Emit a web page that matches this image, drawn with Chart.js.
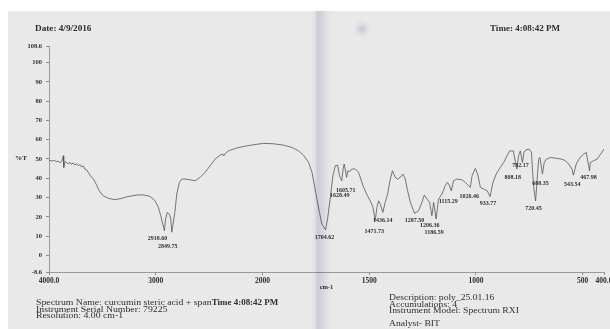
<!DOCTYPE html>
<html>
<head>
<meta charset="utf-8">
<script src="https://cdn.jsdelivr.net/npm/chart.js@4.4.1/dist/chart.umd.min.js"></script>
<style>
  html, body { margin: 0; padding: 0; background: #fff; }
  #wrap { width: 610px; height: 329px; }
</style>
</head>
<body>
<div id="wrap"><canvas id="irChart" width="610" height="329"></canvas></div>
<script>
// wavenumber (cm-1) and %T
const wavenumbers = [
  4000, 3975, 3950, 3928, 3910, 3897, 3880, 3866, 3862, 3850, 3834, 3820, 3803, 3790, 3772, 3760,
  3740, 3725, 3709, 3695, 3678, 3665, 3647, 3630, 3616, 3600, 3585, 3570, 3553, 3540, 3522, 3491,
  3444, 3381, 3318, 3271, 3178, 3116, 3053, 3006, 2975, 2953, 2918.60, 2908, 2891, 2872, 2859,
  2849.75, 2821, 2803, 2778, 2756, 2725, 2678, 2631, 2584, 2537, 2490, 2444, 2397, 2372, 2362,
  2350, 2319, 2256, 2178, 2084, 1995, 1948, 1902, 1862, 1831, 1808, 1784, 1768, 1756, 1745, 1733,
  1722, 1704.62, 1695, 1683, 1670, 1659, 1648, 1639, 1628.49, 1622, 1617, 1605.71, 1600, 1592,
  1581, 1565, 1550, 1539, 1529, 1519, 1508, 1495, 1482, 1471.73, 1464, 1456, 1448, 1436.14, 1425,
  1414, 1401, 1391, 1378, 1367, 1354, 1342, 1331, 1320, 1307, 1295, 1287.50, 1269, 1253, 1242,
  1229, 1217, 1206.36, 1198, 1186.59, 1175, 1159, 1144, 1133, 1125, 1115.29, 1105, 1089, 1065,
  1050, 1026.46, 1018, 1003, 992, 979, 963, 947, 933.77, 920, 905, 886, 870, 854, 842, 825,
  808.18, 800, 792, 782.17, 775, 765, 750, 740, 730, 720.45, 713, 706, 700, 688.35, 680, 670,
  651, 620, 597, 581, 566, 550, 543.54, 530, 512, 496, 483, 467.98, 464, 449, 433, 416, 400
];
const transmittance = [
  49.4, 49.0, 49.2, 48.6, 48.9, 48.0, 48.8, 51.7, 45.6, 48.7, 48.2, 47.4, 48.3, 47.2, 48.0, 46.9,
  47.6, 46.5, 47.2, 45.9, 46.4, 44.8, 44.3, 42.9, 41.6, 40.4, 39.8, 38.1, 36.4, 34.6, 32.9, 30.9,
  29.6, 28.9, 29.6, 30.4, 31.3, 31.4, 30.6, 28.3, 24.9, 20.6, 12.8, 18.9, 22.3, 21.4, 18.9,
  12.0, 22.3, 31.8, 37.9, 39.6, 39.6, 39.2, 38.7, 40.5, 43.1, 46.5, 49.9, 52.0, 52.6, 51.6,
  52.8, 54.2, 55.5, 56.5, 57.4, 58.1, 57.9, 57.2, 56.0, 54.2, 52.0, 48.2, 43.1, 36.1, 29.2, 22.3,
  16.3, 13.3, 18.9, 29.2, 41.3, 46.5, 46.8, 41.3, 38.7, 44.8, 47.4, 40.5, 43.9, 43.4,
  44.8, 44.8, 43.1, 39.6, 36.1, 33.5, 30.9, 28.3, 24.9, 18.0, 24.9, 28.3, 26.6, 22.3, 27.5,
  31.8, 39.6, 43.9, 40.5, 39.6, 40.5, 42.2, 39.6, 33.5, 27.5, 24.0, 21.8, 23.2, 27.5, 31.3,
  29.2, 27.5, 20.6, 27.5, 18.9, 29.2, 31.8, 36.1, 37.9, 36.5, 33.5, 38.7, 39.6, 39.2,
  37.9, 35.3, 41.3, 45.1, 42.2, 35.3, 34.4, 33.5, 30.5, 37.9, 42.2, 45.6, 48.2, 51.7, 54.2, 54.2,
  44.8, 51.7, 54.2, 48.2, 53.4, 54.8, 55.1, 53.4, 36.1, 28.3, 39.6, 49.9, 50.8, 42.2, 48.2, 49.9,
  50.8, 50.3, 49.9, 49.1, 47.4, 44.8, 41.6, 47.4, 50.8, 52.5, 53.4, 43.9, 48.2, 49.1, 49.9, 52.5, 55.1
];

// picked peaks (printed under each minimum)
const peakList = [2918.60, 2849.75, 1704.62, 1628.49, 1605.71, 1471.73, 1436.14, 1287.50, 1206.36,
  1186.59, 1115.29, 1026.46, 933.77, 808.18, 782.17, 720.45, 688.35, 543.54, 467.98];
// where each peak label sits relative to its minimum, px
const peakLabelShift = [[-7, 8], [-4, 14], [-1, 8], [-2, 15], [-1, 13], [-1, 11], [0, 8], [0, 7], [-2, 10],
  [-2, 13], [-3, 11], [-1, 9], [-2, 7], [-4, 8], [-2, 3], [-2, 8], [-2, 9], [-1, 9], [-1, 7]];

const xTicks = [4000, 3000, 2000, 1500, 1000, 500, 400];
const xTickText = ['4000.0', '3000', '2000', '1500', '1000', '500', '400.0'];
const yTicks = [108.6, 100, 90, 80, 70, 60, 50, 40, 30, 20, 10, 0, -8.6];
const yTickText = ['108.6', '100', '90', '80', '70', '60', '50', '40', '30', '20', '10', '0', '-8.6'];

const headerLeft = 'Date: 4/9/2016';
const headerRight = 'Time: 4:08:42 PM';
const infoLeft = ['Spectrum Name: curcumin steric acid + span', 'Instrument Serial Number: 79225', 'Resolution: 4.00 cm-1'];
const infoTime = 'Time 4:08:42 PM';
const infoRight = ['Description: poly_25.01.16', 'Accumulations: 4', 'Instrument Model: Spectrum RXI', '', 'Analyst- BIT'];

// the printer compresses 4000-2000 to half the density of 2000-400
const SPLIT = 2000 / 5200;
class WavenumberScale extends Chart.LinearScale {
  getPixelForValue(value) {
    const f = value >= 2000
      ? (4000 - value) / 2000 * SPLIT
      : SPLIT + (2000 - value) / 1600 * (1 - SPLIT);
    return this.left + f * this.width;
  }
  getValueForPixel(pixel) {
    const f = (pixel - this.left) / this.width;
    return f <= SPLIT ? 4000 - f / SPLIT * 2000 : 2000 - (f - SPLIT) / (1 - SPLIT) * 1600;
  }
}
WavenumberScale.id = 'wavenumber';
WavenumberScale.defaults = Chart.LinearScale.defaults;
Chart.register(WavenumberScale);

const INK = '#2e2e2e';
const SERIF = '"Liberation Serif", "DejaVu Serif", serif';

// text printed slightly wide, like the plotter output
function stretchText(ctx, text, x, y, font, sx) {
  ctx.save();
  ctx.font = font;
  ctx.translate(x, y);
  ctx.scale(sx, 1);
  ctx.fillText(text, 0, 0);
  const w = ctx.measureText(text).width * sx;
  ctx.restore();
  return w;
}

const paperPlugin = {
  id: 'paper',
  beforeDraw(chart) {
    const ctx = chart.ctx;
    ctx.save();
    ctx.fillStyle = '#ffffff';
    ctx.fillRect(0, 0, chart.width, chart.height);
    ctx.fillStyle = '#e9e9e9';
    ctx.fillRect(8, 11, chart.width - 8, chart.height - 11);
    ctx.restore();
  },
  afterDatasetsDraw(chart) {
    const ctx = chart.ctx;
    const xs = chart.scales.x, ys = chart.scales.y;
    ctx.save();
    ctx.fillStyle = INK;
    ctx.font = 'bold 6px ' + SERIF;
    ctx.textAlign = 'center';
    ctx.textBaseline = 'middle';
    peakList.forEach((wn, i) => {
      const k = wavenumbers.indexOf(wn);
      const px = xs.getPixelForValue(wn);
      const py = ys.getPixelForValue(transmittance[k]);
      const [dx, dy] = peakLabelShift[i];
      ctx.fillText(wn.toFixed(2), px + dx, py + dy);
    });
    ctx.restore();
  },
  afterDraw(chart) {
    const ctx = chart.ctx;
    ctx.save();
    ctx.fillStyle = INK;
    ctx.textBaseline = 'middle';
    ctx.textAlign = 'left';
    stretchText(ctx, headerLeft, 35, 29, 'bold 8px ' + SERIF, 1.15);
    stretchText(ctx, headerRight, 490, 29, 'bold 8px ' + SERIF, 1.13);
    stretchText(ctx, '%T', 15, 158, 'bold 6.5px ' + SERIF, 1.1);

    let nameEnd = 36;
    infoLeft.forEach((t, i) => {
      const w = stretchText(ctx, t, 36, 303 + i * 6.5, '8px ' + SERIF, 1.22);
      if (i === 0) nameEnd = 36 + w;
    });
    stretchText(ctx, infoTime, nameEnd, 303, 'bold 8px ' + SERIF, 1.12);
    infoRight.forEach((t, i) => stretchText(ctx, t, 389, 298 + i * 6.6, '8px ' + SERIF, 1.2));

    // crease running down the sheet
    ctx.globalCompositeOperation = 'multiply';
    const g = ctx.createLinearGradient(311, 0, 333, 0);
    g.addColorStop(0, 'rgba(255,255,255,0)');
    g.addColorStop(0.3, 'rgba(185,182,212,0.45)');
    g.addColorStop(0.6, 'rgba(205,203,225,0.35)');
    g.addColorStop(1, 'rgba(255,255,255,0)');
    ctx.fillStyle = g;
    ctx.fillRect(311, 11, 22, chart.height - 11);
    const b = ctx.createRadialGradient(362, 29, 1, 362, 29, 11);
    b.addColorStop(0, 'rgba(175,172,205,0.45)');
    b.addColorStop(1, 'rgba(255,255,255,0)');
    ctx.fillStyle = b;
    ctx.fillRect(350, 16, 24, 26);
    ctx.restore();
  }
};

new Chart(document.getElementById('irChart'), {
  type: 'line',
  data: {
    datasets: [{
      data: wavenumbers.map((wn, i) => ({ x: wn, y: transmittance[i] })),
      borderColor: '#555555',
      borderWidth: 0.8,
      pointRadius: 0,
      tension: 0,
      fill: false
    }]
  },
  options: {
    responsive: false,
    animation: false,
    devicePixelRatio: 1,
    layout: { padding: { top: 46, right: 6, left: 0, bottom: 0 } },
    plugins: { legend: { display: false }, tooltip: { enabled: false } },
    scales: {
      x: {
        type: 'wavenumber',
        position: 'bottom',
        min: 400,
        max: 4000,
        afterBuildTicks: s => { s.ticks = xTicks.map(v => ({ value: v })); },
        afterFit: s => { s.height = 57; s.paddingLeft = 0; s.paddingRight = 0; },
        ticks: {
          autoSkip: false,
          maxRotation: 0,
          padding: 2,
          color: INK,
          font: { family: SERIF, size: 7.5, weight: 'bold' },
          callback: (v, i) => xTickText[i]
        },
        grid: { drawOnChartArea: false, tickLength: 3, color: '#8a8a8a' },
        border: { color: '#9a9a9a', width: 1 },
        title: {
          display: true,
          text: 'cm-1',
          color: INK,
          font: { family: SERIF, size: 6.5, weight: 'bold' },
          padding: { top: 0, bottom: 38 }
        }
      },
      y: {
        min: -8.6,
        max: 108.6,
        afterBuildTicks: s => { s.ticks = yTicks.map(v => ({ value: v })); },
        afterFit: s => { s.width = 49; s.paddingTop = 0; s.paddingBottom = 0; },
        ticks: {
          padding: 4,
          color: INK,
          font: { family: SERIF, size: 6.5, weight: 'bold' },
          callback: (v, i) => yTickText[i]
        },
        grid: { drawOnChartArea: false, tickLength: 3, color: '#8a8a8a' },
        border: { color: '#9a9a9a', width: 1 }
      }
    }
  },
  plugins: [paperPlugin]
});
</script>
</body>
</html>
